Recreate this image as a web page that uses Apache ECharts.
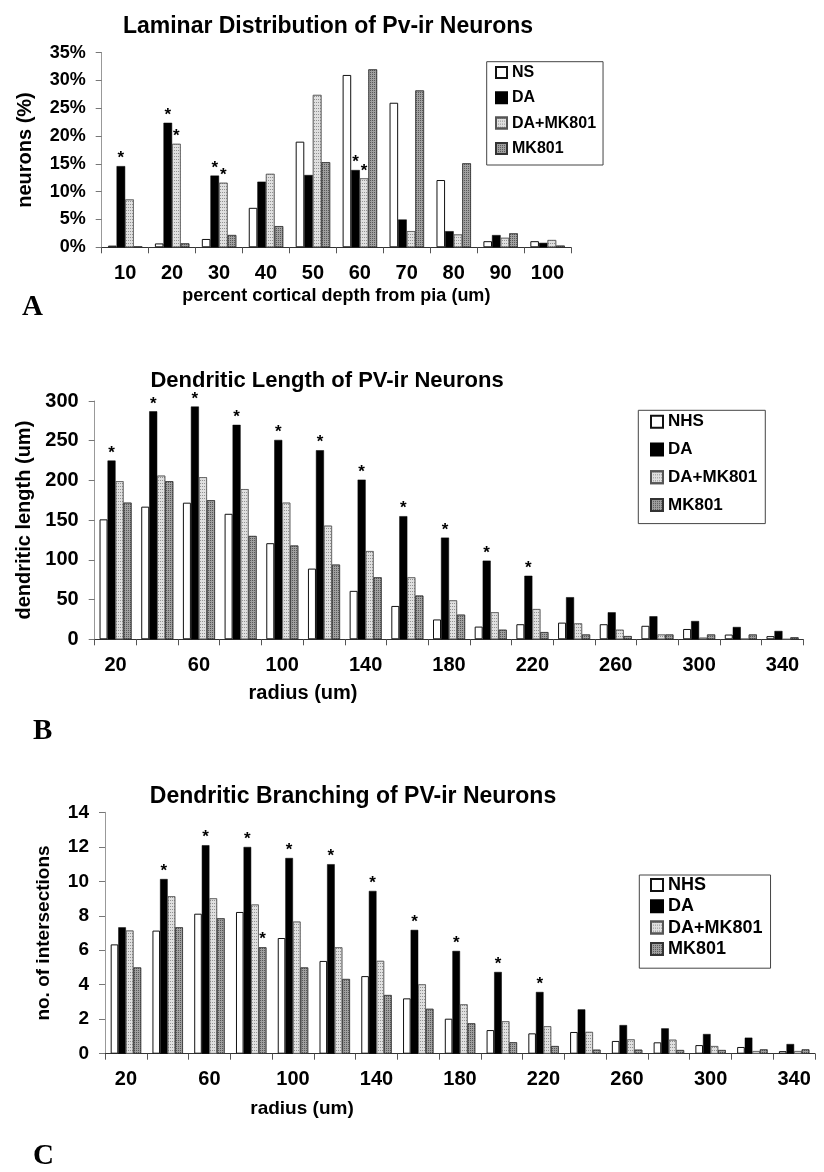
<!DOCTYPE html>
<html>
<head>
<meta charset="utf-8">
<script src="https://cdn.jsdelivr.net/npm/echarts@6/dist/echarts.min.js"></script>
<style>
html,body{margin:0;padding:0;background:#fff;}
#chart{width:824px;height:1172px;}
</style>
</head>
<body>
<div id="chart"></div>
<script>
// ---------- Panel A: laminar distribution ----------
const laminarCategories = ['10','20','30','40','50','60','70','80','90','100'];
const laminarNS   = [0.3, 0.7, 1.5, 7.1, 19.0, 31.0, 26.0, 12.1, 1.1, 1.1];
const laminarDA   = [14.6, 22.4, 12.9, 11.8, 13.0, 13.9, 5.0, 2.9, 2.2, 0.8];
const laminarDAMK = [8.6, 18.6, 11.6, 13.2, 27.4, 12.4, 2.9, 2.3, 1.7, 1.3];
const laminarMK   = [0.15, 0.7, 2.2, 3.8, 15.3, 32.0, 28.2, 15.1, 2.5, 0.3];
const laminarSigDA   = [1,1,1,0,0,1,0,0,0,0];
const laminarSigDAMK = [0,1,1,0,0,1,0,0,0,0];

// ---------- Panel B: dendritic length ----------
const radiusCategories = ['20','40','60','80','100','120','140','160','180','200','220','240','260','280','300','320','340'];
const lengthNHS  = [151, 167, 172, 158, 121, 89, 61, 42, 25, 16, 19, 21, 19, 17, 13, 6, 4];
const lengthDA   = [225, 287, 293, 270, 251, 238, 201, 155, 128, 99, 80, 53, 34, 29, 23, 15.5, 10.5];
const lengthDAMK = [199, 206, 204, 189, 172, 143, 111, 78, 49, 34, 38, 20, 12, 6, 2, 0.5, 0];
const lengthMK   = [172, 199, 175, 130, 118, 94, 78, 55, 31, 12, 9, 6, 4, 6, 6, 6, 2.5];
const lengthSigDA = [1,1,1,1,1,1,1,1,1,1,1,0,0,0,0,0,0];

// ---------- Panel C: dendritic branching ----------
const branchNHS  = [6.34, 7.14, 8.12, 8.22, 6.71, 5.38, 4.5, 3.21, 2.03, 1.37, 1.18, 1.26, 0.74, 0.66, 0.5, 0.39, 0.15];
const branchDA   = [7.33, 10.13, 12.09, 11.99, 11.35, 10.99, 9.44, 7.18, 5.96, 4.74, 3.58, 2.57, 1.66, 1.47, 1.14, 0.93, 0.56];
const branchDAMK = [7.14, 9.13, 9.01, 8.65, 7.66, 6.17, 5.38, 4.02, 2.86, 1.88, 1.59, 1.26, 0.83, 0.81, 0.44, 0.15, 0.15];
const branchMK   = [5.0, 7.33, 7.85, 6.17, 5.0, 4.33, 3.4, 2.6, 1.76, 0.66, 0.44, 0.23, 0.23, 0.21, 0.21, 0.25, 0.25];
const branchSigDA = [0,1,1,1,1,1,1,1,1,1,1,0,0,0,0,0,0];
const branchSigMK = [0,0,0,1,0,0,0,0,0,0,0,0,0,0,0,0,0];

const percentTicks = ['0%','5%','10%','15%','20%','25%','30%','35%'];

const FONT = '"Liberation Sans", Arial, Helvetica, sans-serif';
const SERIF = '"Liberation Serif", "Times New Roman", serif';

const styleWhite = {color:'#ffffff', borderColor:'#111', borderWidth:1};
const styleBlack = {color:'#000000', borderColor:'#000', borderWidth:0.5};
const styleLight = {color:'#e0e0e0', borderColor:'#555', borderWidth:0.6,
  decal:{symbol:'rect', symbolSize:1, dashArrayX:[1,1], dashArrayY:[1,2], color:'rgba(80,80,80,0.55)'}};
const styleDark  = {color:'#a0a0a0', borderColor:'#333', borderWidth:0.6,
  decal:{symbol:'rect', symbolSize:1, dashArrayX:[1,1], dashArrayY:[1,1], color:'rgba(40,40,40,0.6)'}};

function starLabel(flags){
  return {show:true, position:'top', distance:-1, color:'#000', fontFamily:FONT,
    fontSize:17, fontWeight:'bold',
    formatter:function(p){return flags[p.dataIndex] ? '*' : '';}};
}

function bars(name, data, style, grid, width, flags){
  const s = {type:'bar', name:name, data:data, xAxisIndex:grid, yAxisIndex:grid,
    barWidth:width, barGap:'0%', itemStyle:style, emphasis:{disabled:true}};
  if (flags) s.label = starLabel(flags);
  return s;
}

const grids = [
  {left:101.7, top:52.7, width:469.3, height:194.6},
  {left:94.7, top:401, width:708.6, height:238.3},
  {left:105, top:812.3, width:710, height:241.4}
];

function xAxis(idx, cats, labelInterval, fontSize, name, nameSize, nameGap, shift){
  return {type:'category', gridIndex:idx, data:cats,
    axisLine:{lineStyle:{color:'#333', width:1}},
    axisTick:{show:true, interval:0, length:6, lineStyle:{color:'#555'}},
    axisLabel:{interval:labelInterval, margin:16, color:'#000', fontFamily:FONT, fontSize:fontSize, fontWeight:'bold'},
    name:name, nameLocation:'middle', nameGap:nameGap,
    nameTextStyle:{color:'#000', fontFamily:FONT, fontSize:nameSize, fontWeight:'bold',
      padding: shift ? [0, shift, 0, 0] : 0}};
}
function yAxis(idx, max, interval, fontSize, name, nameSize, nameGap, formatter){
  return {type:'value', gridIndex:idx, min:0, max:max, interval:interval,
    splitLine:{show:false},
    axisLine:{show:true, lineStyle:{color:'#999', width:1}},
    axisTick:{show:true, length:6, lineStyle:{color:'#777'}},
    axisLabel:{margin:16, color:'#000', fontFamily:FONT, fontSize:fontSize, fontWeight:'bold', formatter:formatter},
    name:name, nameLocation:'middle', nameGap:nameGap, nameRotate:90,
    nameTextStyle:{color:'#000', fontFamily:FONT, fontSize:nameSize, fontWeight:'bold'}};
}

function legend(names, left, top, fontSize, lineH, gap, pad, icon){
  return {data:names, orient:'vertical', left:left, top:top, itemWidth:icon, itemHeight:icon,
    itemGap:gap, padding:pad, borderColor:'#444', borderWidth:1, backgroundColor:'#fff',
    icon:'rect', selectedMode:false,
    textStyle:{color:'#000', fontFamily:FONT, fontSize:fontSize, fontWeight:'bold', lineHeight:lineH}};
}

const option = {
  animation:false,
  backgroundColor:'#ffffff',
  title:[
    {text:'Laminar Distribution of Pv-ir Neurons', left:323, top:10, textAlign:'center',
      textStyle:{fontFamily:FONT, fontSize:23, fontWeight:'bold', color:'#000'}},
    {text:'Dendritic Length of PV-ir Neurons', left:322, top:365, textAlign:'center',
      textStyle:{fontFamily:FONT, fontSize:22, fontWeight:'bold', color:'#000'}},
    {text:'Dendritic Branching of PV-ir Neurons', left:348, top:780, textAlign:'center',
      textStyle:{fontFamily:FONT, fontSize:23, fontWeight:'bold', color:'#000'}}
  ],
  legend:[
    legend(['NS','DA','DA+MK801','MK801'], 486.7, 61.7, 16, 16, 9.3, [2.8, 7, 8.6, 8.3], 11),
    legend(['NHS','DA','DA+MK801','MK801'], 638.3, 410.3, 17, 17, 10.8, [2.9, 8, 10, 11.7], 12),
    legend(['NHS','DA','DA+MK801','MK801'], 639.3, 875, 18, 18, 3.3, [1, 8, 10.3, 10.7], 12)
  ],
  grid:grids,
  xAxis:[
    xAxis(0, laminarCategories, 0, 20, 'percent cortical depth from pia (um)', 18, 40, 0),
    xAxis(1, radiusCategories, 1, 20, 'radius (um)', 20, 44, 292),
    xAxis(2, radiusCategories, 1, 20, 'radius (um)', 19, 46, 316)
  ],
  yAxis:[
    yAxis(0, 35, 5, 18, 'neurons (%)', 20, 66, function(v){return percentTicks[Math.round(v/5)];}),
    yAxis(1, 300, 50, 20, 'dendritic length (um)', 20, 60, '{value}'),
    yAxis(2, 14, 2, 19, 'no. of intersections', 19, 52, '{value}')
  ],
  graphic:[
    {type:'text', left:22, top:293, style:{text:'A', font:'bold 29px '+SERIF, fill:'#000'}},
    {type:'text', left:33, top:717, style:{text:'B', font:'bold 29px '+SERIF, fill:'#000'}},
    {type:'text', left:33, top:1142, style:{text:'C', font:'bold 29px '+SERIF, fill:'#000'}}
  ],
  series:[
    bars('NS', laminarNS, styleWhite, 0, 8.6),
    bars('DA', laminarDA, styleBlack, 0, 8.6, laminarSigDA),
    bars('DA+MK801', laminarDAMK, styleLight, 0, 8.6, laminarSigDAMK),
    bars('MK801', laminarMK, styleDark, 0, 8.6),

    bars('NHS', lengthNHS, styleWhite, 1, 8),
    bars('DA', lengthDA, styleBlack, 1, 8, lengthSigDA),
    bars('DA+MK801', lengthDAMK, styleLight, 1, 8),
    bars('MK801', lengthMK, styleDark, 1, 8),

    bars('NHS', branchNHS, styleWhite, 2, 7.6),
    bars('DA', branchDA, styleBlack, 2, 7.6, branchSigDA),
    bars('DA+MK801', branchDAMK, styleLight, 2, 7.6),
    bars('MK801', branchMK, styleDark, 2, 7.6, branchSigMK)
  ]
};

const chart = echarts.init(document.getElementById('chart'), null, {renderer:'canvas'});
chart.setOption(option);
</script>
</body>
</html>
